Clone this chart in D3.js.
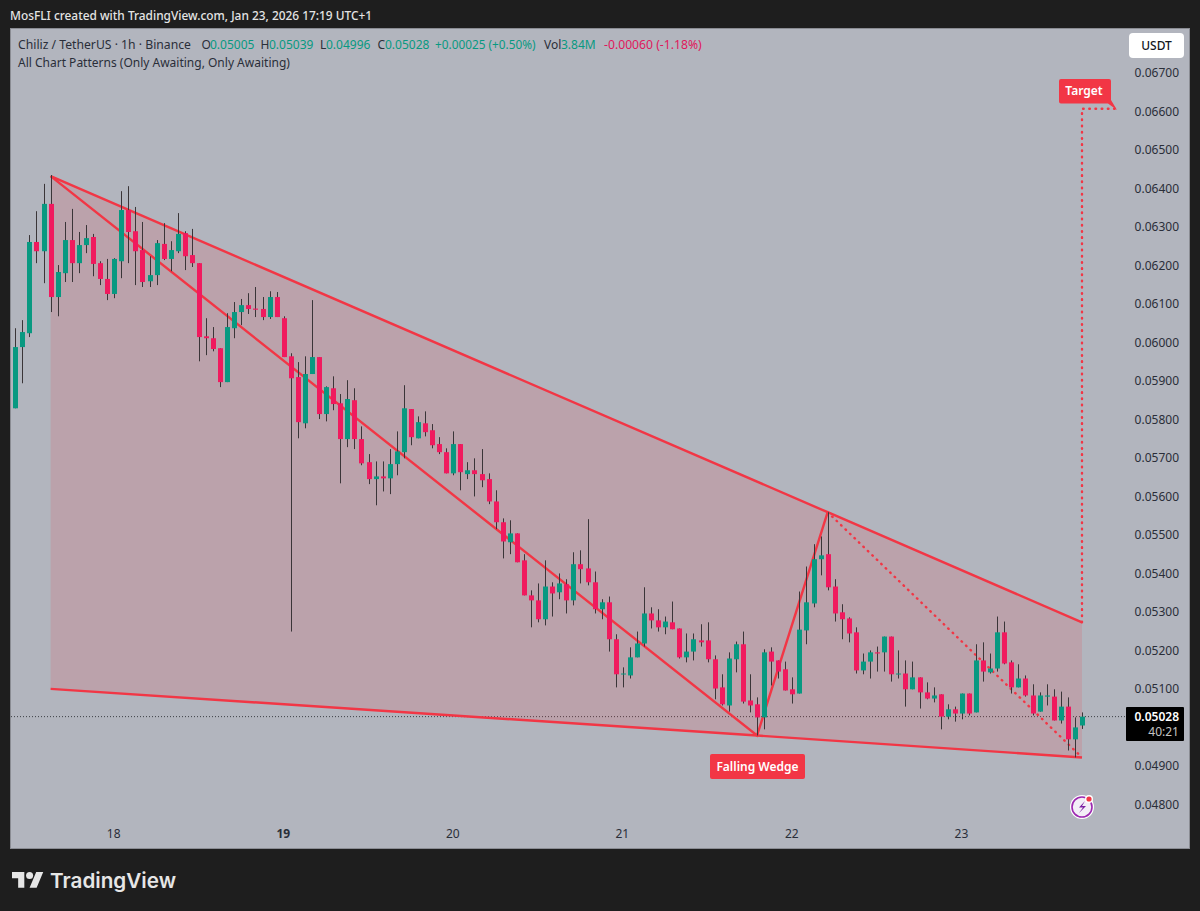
<!DOCTYPE html>
<html><head><meta charset="utf-8">
<script src="https://cdn.jsdelivr.net/npm/d3@7/dist/d3.min.js"></script>
<style>html,body{margin:0;padding:0;background:#1e1e1e}svg{display:block}text{font-family:"Noto Sans",sans-serif}</style>
</head><body><svg id="c" width="1200" height="911"></svg>
<script>
const opens=[.05829,.05988,.06024,.06261,.06237,.0636,.06118,.0618,.06266,.06206,
.06253,.06274,.06206,.06165,.06126,.06211,.06344,.06289,.0624,.06159,
.06175,.06256,.06217,.06237,.06284,.06227,.06206,.06016,.06011,.05985,
.05897,.06037,.06079,.06097,.06088,.06087,.06066,.06118,.06063,.05964,
.0591,.0579,.05918,.05962,.05814,.05881,.05842,.05749,.0585,.05749,
.05689,.05645,.05652,.05647,.05684,.05715,.05827,.05751,.0579,.05772,
.05736,.05715,.0566,.05736,.05658,.05668,.05658,.05645,.05587,.05533,
.05481,.05504,.05434,.05343,.0533,.05281,.05366,.05351,.05372,.0533,
.05424,.05413,.05377,.05307,.05325,.05229,.05138,.05135,.05182,.05218,
.05296,.05278,.0526,.05273,.05257,.05182,.05197,.05226,.05226,.05177,
.05104,.05057,.05177,.05216,.0507,.0506,.05026,.05197,.05174,.05151,
.05099,.05088,.05252,.05322,.05437,.0545,.05366,.05299,.05283,.05247,
.05148,.05171,.05195,.05195,.05236,.05138,.0514,.05099,.0513,.05091,
.05075,.05086,.05028,.05047,.05036,.05088,.05039,.05174,.05143,.05153,
.05247,.05169,.05104,.05127,.05083,.05041,.0508,.0508,.05018,.05054,
.04969,.05005];
const highs=[.06037,.06058,.06279,.06341,.06412,.06435,.06201,.06313,.06347,.06287,
.06305,.06282,.06211,.06217,.06219,.06393,.06406,.06352,.06313,.06224,
.06266,.0631,.06263,.06336,.06289,.06295,.06206,.06063,.0604,.05985,
.06076,.06105,.06113,.06128,.06144,.06118,.06133,.06131,.06068,.05972,
.05949,.05964,.0611,.05962,.05886,.05912,.05866,.05902,.05881,.05782,
.0571,.05691,.05691,.05723,.05769,.05889,.05827,.05808,.05821,.05788,
.05754,.05725,.05769,.05736,.05689,.05699,.05723,.0566,.05616,.05543,
.05538,.05504,.0545,.05356,.05374,.05434,.05377,.054,.05385,.05455,
.0546,.05541,.05405,.05333,.0534,.05242,.05156,.05208,.05249,.05364,
.05312,.05307,.05288,.05327,.05257,.05244,.05244,.05268,.05273,.05187,
.05138,.05195,.05223,.05249,.05138,.05078,.05203,.05208,.05174,.05171,
.0513,.05353,.05418,.05476,.05496,.05559,.05385,.0532,.05286,.0526,
.05192,.052,.0521,.05236,.05236,.052,.05174,.05171,.0513,.05117,
.05104,.05086,.0506,.05054,.05088,.05088,.05216,.05221,.05192,.05288,
.05275,.05174,.05164,.05135,.05112,.05091,.05112,.05099,.05093,.05078,
.05026,.05039];
const lows=[.05829,.05894,.06014,.06206,.06154,.06079,.06068,.06157,.06157,.0618,
.06232,.06172,.06149,.0611,.06115,.06167,.06206,.06149,.06144,.06144,
.06149,.06214,.06185,.06232,.06188,.06196,.05951,.05967,.05977,.05884,
.05897,.06011,.06045,.06074,.06066,.06058,.06061,.06066,.05962,.05249,
.05751,.05777,.05918,.05801,.05795,.05824,.05634,.05728,.05723,.05681,
.05632,.05577,.05613,.05606,.05655,.05699,.05733,.05751,.05756,.05725,
.0571,.0566,.05655,.05616,.05645,.056,.05624,.0558,.05515,.05439,
.0545,.05429,.05343,.0526,.05273,.05265,.05288,.05333,.05296,.05317,
.05374,.05369,.05296,.05281,.05197,.05104,.05104,.05127,.05182,.0521,
.05257,.05249,.05242,.05255,.05179,.05169,.05174,.0521,.05169,.05073,
.05057,.05041,.05143,.05062,.05039,.04979,.04995,.05109,.05127,.05096,
.05062,.05088,.05216,.05312,.05395,.05356,.05275,.05229,.05221,.0514,
.05138,.05127,.05145,.05145,.05119,.05127,.05054,.05099,.05049,.05073,
.05065,.04995,.05021,.05015,.05021,.05031,.05039,.05119,.0514,.05145,
.05164,.05088,.05104,.0508,.05031,.05041,.05057,.05018,.0501,.0494,
.04922,.04996];
const closes=[.05988,.06027,.06261,.06237,.0636,.06118,.06183,.06266,.06206,.06253,
.06271,.06204,.06165,.06126,.06217,.06344,.06287,.06237,.06157,.06175,
.06258,.06217,.0624,.06282,.06224,.06206,.06014,.06011,.05983,.05897,
.0604,.06079,.06097,.06087,.06085,.06066,.06118,.06066,.05962,.05907,
.05793,.05918,.05962,.05814,.05884,.0584,.05749,.05853,.05749,.05686,
.05645,.05652,.05647,.05684,.05717,.05829,.05754,.05793,.05767,.05733,
.05715,.0566,.05736,.05663,.05668,.05658,.05642,.05587,.05533,.05483,
.05504,.05429,.05343,.0533,.05281,.05366,.05348,.05374,.0533,.05424,
.05411,.05377,.05307,.05325,.05229,.05138,.0514,.05182,.05218,.05296,
.05278,.0526,.05275,.05255,.05182,.05197,.05229,.05221,.05177,.05101,
.0506,.05179,.05216,.05067,.05057,.05026,.05195,.05171,.05145,.05096,
.05086,.05254,.05325,.05437,.05447,.05364,.05296,.05281,.05244,.05148,
.05171,.05195,.05192,.05236,.05138,.0514,.05099,.0513,.05091,.05075,
.05083,.05028,.05047,.05036,.05088,.05036,.05174,.05145,.05153,.05247,
.05166,.05104,.05127,.05083,.05036,.05083,.05083,.05018,.05054,.04969,
.05,.05028];
const priceTicks=[.048,.049,.05,.051,.052,.053,.054,.055,.056,.057,.058,.059,.06,.061,.062,.063,.064,.065,.066,.067];
const shownPriceTicks=priceTicks.filter(p=>p!==.05);
const dayLabels=["18","19","20","21","22","23"];
const dayIndex=[14,38,62,86,110,134];
const wedgeUpper=[[5,.06432],[115,.05559],[151,.05273]];
const wedgeLower=[[5,.051],[105,.04979],[151,.04922]];
const zigzag=[[5,.06432],[105,.04979],[115,.05559]];
const zigzagDotted=[[115,.05559],[151,.04922]];
const targetPath=[[151,.05273],[151,.06607],[155.8,.06607]];
const lastPrice=.05028;

const RED="#F23645",UP="#089981",DOWN="#F01A5E";
const x=d3.scaleLinear([0,151],[15.3,1082]);
const y=d3.scaleLinear([.048,.067],[804.4,73]);
const line=d3.line(d=>x(d[0]),d=>y(d[1]));
const svg=d3.select("#c");

svg.append("rect").attr("width",1200).attr("height",911).attr("fill","#1e1e1e");
svg.append("rect").attr("x",10.5).attr("y",28.5).attr("width",1179).attr("height",820).attr("fill","#B2B5BE").attr("stroke","#8a8c93");

svg.append("text").attr("x",10).attr("y",20).attr("font-size",11.9).attr("font-weight",500).attr("fill","#e4e4e4").text("MosFLI created with TradingView.com, Jan 23, 2026 17:19 UTC+1");

// last price dotted line
svg.append("line").attr("x1",11).attr("x2",1126).attr("y1",y(lastPrice)).attr("y2",y(lastPrice)).attr("stroke","#3d3f45").attr("stroke-width",1).attr("stroke-dasharray","1 2");

// wedge
svg.append("path").attr("d",line([...wedgeUpper,...wedgeLower.slice().reverse()])).attr("fill",RED).attr("fill-opacity",.15);
[wedgeUpper,wedgeLower,zigzag].forEach(p=>svg.append("path").attr("d",line(p)).attr("fill","none").attr("stroke",RED).attr("stroke-width",2.4));
[zigzagDotted,targetPath].forEach(p=>svg.append("path").attr("d",line(p)).attr("fill","none").attr("stroke",RED).attr("stroke-width",2.4).attr("stroke-linecap","round").attr("stroke-dasharray","0.6 5.6"));

// candles
const idx=d3.range(opens.length);
const g=svg.append("g");
g.selectAll("line").data(idx).join("line").attr("x1",i=>Math.round(x(i))+.5).attr("x2",i=>Math.round(x(i))+.5)
 .attr("y1",i=>y(highs[i])).attr("y2",i=>y(lows[i])).attr("stroke","#3a3538").attr("stroke-width",1);
g.selectAll("rect").data(idx).join("rect").attr("x",i=>Math.round(x(i))-2).attr("width",5)
 .attr("y",i=>y(Math.max(opens[i],closes[i]))).attr("height",i=>Math.max(1,Math.abs(y(opens[i])-y(closes[i]))))
 .attr("fill",i=>closes[i]>=opens[i]?UP:DOWN);

// axes
const yAxis=svg.append("g").attr("transform","translate(1179,0)").call(d3.axisLeft(y).tickValues(shownPriceTicks).tickSize(0).tickPadding(0).tickFormat(d3.format(".5f")));
yAxis.select(".domain").remove();
yAxis.selectAll("text").attr("font-size",12).attr("fill","#2a2e39").style("font-family",'"Noto Sans",sans-serif');
const xAxis=svg.append("g").attr("transform","translate(-1,829)").call(d3.axisBottom(x).tickValues(dayIndex).tickSize(0).tickPadding(0).tickFormat((d,i)=>dayLabels[i]));
xAxis.select(".domain").remove();
xAxis.selectAll("text").attr("font-size",12).attr("fill","#2a2e39").attr("font-weight",(d,i)=>i===1?700:400).style("font-family",'"Noto Sans",sans-serif');

// legend
const tx=(X,Y,s,c,fs=12,w=400,a="start")=>svg.append("text").attr("x",X).attr("y",Y).attr("font-size",fs).attr("fill",c).attr("font-weight",w).attr("text-anchor",a).text(s);
const ink="#2a2e39",gr="#089981",pk="#e0185c";
tx(18,49,"Chiliz / TetherUS · 1h · Binance",ink,12.2);
[[201.5,210,"O","0.05005"],[260.5,269,"H","0.05039"],[320,326,"L","0.04996"],[377.5,385,"C","0.05028"]].forEach(([X,V,k,v])=>{
  tx(X,49,k,ink);
  tx(V,49,v,gr);
});
tx(435,49,"+0.00025 (+0.50%)",gr,11.8);
tx(544,49,"Vol",ink);
tx(561,49,"3.84M",gr);
tx(604,49,"-0.00060 (-1.18%)",pk,12.2);
tx(18,67,"All Chart Patterns (Only Awaiting, Only Awaiting)",ink);

// USDT box
svg.append("rect").attr("x",1129).attr("y",33).attr("width",55).attr("height",25).attr("rx",4).attr("fill","#fff");
tx(1156.5,50,"USDT","#131722",12,500,"middle");

// Target label
svg.append("path").attr("d","M1061 79H1109a2 2 0 0 1 2 2V100L1117 110L1108 103.5H1061a2 2 0 0 1-2-2V81a2 2 0 0 1 2-2Z").attr("fill",RED);
tx(1084,95,"Target","#fff",12,600,"middle");

// Falling wedge label
svg.append("rect").attr("x",710).attr("y",754).attr("width",95).attr("height",25).attr("rx",2).attr("fill",RED);
tx(757.5,771,"Falling Wedge","#fff",12,600,"middle");

// last price tag
svg.append("rect").attr("x",1126).attr("y",707).attr("width",58).attr("height",34).attr("rx",1).attr("fill","#000");
tx(1179,721,"0.05028","#fff",12,600,"end");
tx(1179,736,"40:21","#c4c4c4",12,400,"end");

// bolt icon
const ic=svg.append("g").attr("transform","translate(1082,807)");
ic.append("circle").attr("r",12).attr("fill","#fff");
ic.append("circle").attr("r",10).attr("fill","#f3eef7").attr("stroke","#9c27b0").attr("stroke-width",1.6);
ic.append("path").attr("d","M3 -6L-3 0.5H1L-3 6L4 -1H0Z").attr("fill","#7b1fa2");
ic.append("circle").attr("cx",7).attr("cy",-8).attr("r",4).attr("fill","#fff");
ic.append("circle").attr("cx",7).attr("cy",-8).attr("r",2.6).attr("fill","#f23645");

// TradingView mark
const tv=svg.append("g").attr("transform","translate(12,868.5) scale(.88)").attr("fill","#e6e6e6");
tv.append("path").attr("d","M14 22H7V11H0V4h14v18zM28 22h-8l7.5-18h8L28 22z");
tv.append("circle").attr("cx",20).attr("cy",8).attr("r",4);
svg.append("text").attr("x",50).attr("y",888).attr("font-size",20.7).attr("font-weight",600).attr("fill","#e6e6e6").style("font-family","Inter,sans-serif").text("TradingView");
</script></body></html>
